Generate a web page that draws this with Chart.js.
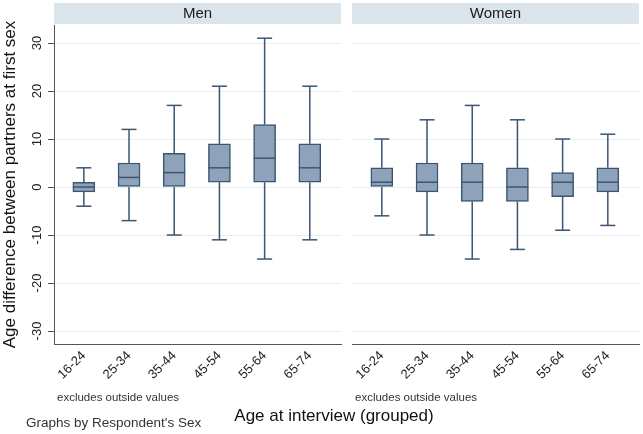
<!DOCTYPE html>
<html>
<head>
<meta charset="utf-8">
<script src="https://cdn.jsdelivr.net/npm/chart.js@4.4.1/dist/chart.umd.min.js"></script>
<style>
  html, body { margin: 0; padding: 0; background: #fff; }
  body { width: 643px; height: 434px; position: relative; overflow: hidden;
         font-family: "Liberation Sans", Arial, sans-serif; color: #222; }
  .panel { position: absolute; top: 0; height: 434px; }
  #men { left: 0; width: 343px; }
  #women { left: 343px; width: 300px; }
  .note { position: absolute; font-size: 11.5px; color: #333; white-space: nowrap; }
  #xtitle { position: absolute; top: 406px; left: 0; width: 668px; text-align: center;
            font-size: 17px; color: #111; }
  #byline { position: absolute; left: 26px; top: 415px; font-size: 13.5px; color: #333; }
</style>
</head>
<body>
<div class="panel" id="men"><canvas id="menChart"></canvas></div>
<div class="panel" id="women"><canvas id="womenChart"></canvas></div>
<div class="note" style="left:57px; top:391px;">excludes outside values</div>
<div class="note" style="left:355px; top:391px;">excludes outside values</div>
<div id="xtitle">Age at interview (grouped)</div>
<div id="byline">Graphs by Respondent's Sex</div>
<script>
const ageGroups = ["16-24", "25-34", "35-44", "45-54", "55-64", "65-74"];
const yTicks = [-30, -20, -10, 0, 10, 20, 30];

const menLow = [-4, -7, -10, -11, -15, -11];
const menQ1 = [-1, 0, 0, 1, 1, 1];
const menMedian = [0, 2, 3, 4, 6, 4];
const menQ3 = [1, 5, 7, 9, 13, 9];
const menHigh = [4, 12, 17, 21, 31, 21];

const womenLow = [-6, -10, -15, -13, -9, -8];
const womenQ1 = [0, -1, -3, -3, -2, -1];
const womenMedian = [1, 1, 1, 0, 1, 1];
const womenQ3 = [4, 5, 5, 4, 3, 4];
const womenHigh = [10, 14, 17, 14, 10, 11];

const FONT = '"Liberation Sans", Arial, sans-serif';
const LINE = "#3b5573";
const FILL = "#8ea3ba";
const GRID = "#e8eff2";

Chart.defaults.font.family = FONT;
Chart.defaults.color = "#222";

// whiskers, caps and medians, drawn from the chart scales
const whiskers = {
  id: "whiskers",
  afterDatasetsDraw(chart, args, opts) {
    const { ctx, scales: { x, y } } = chart;
    ctx.save();
    ctx.strokeStyle = LINE;
    ctx.lineWidth = 1.5;
    const seg = (x1, y1, x2, y2) => {
      ctx.beginPath();
      ctx.moveTo(x1, y1);
      ctx.lineTo(x2, y2);
      ctx.stroke();
    };
    opts.low.forEach((lo, i) => {
      const px = x.getPixelForValue(i);
      const yHi = y.getPixelForValue(opts.high[i]);
      const yLo = y.getPixelForValue(lo);
      const yMed = y.getPixelForValue(opts.median[i]);
      seg(px, y.getPixelForValue(opts.q3[i]), px, yHi);
      seg(px, y.getPixelForValue(opts.q1[i]), px, yLo);
      seg(px - 7.5, yHi, px + 7.5, yHi);
      seg(px - 7.5, yLo, px + 7.5, yLo);
      seg(px - 11, yMed, px + 11, yMed);
    });
    ctx.restore();
  },
};

// panel header strip ("Men" / "Women")
const header = {
  id: "header",
  beforeDraw(chart, args, opts) {
    const { ctx, chartArea: a } = chart;
    ctx.save();
    ctx.fillStyle = "#dae5ec";
    ctx.fillRect(a.left, 3, a.right - a.left, 21);
    ctx.fillStyle = "#1a1a1a";
    ctx.font = "15px " + FONT;
    ctx.textAlign = "center";
    ctx.textBaseline = "middle";
    ctx.fillText(opts.text, (a.left + a.right) / 2, 14);
    ctx.restore();
  },
};

function makeChart(id, title, low, q1, median, q3, high, withAxis) {
  return new Chart(id, {
    type: "bar",
    data: {
      datasets: [{
        data: ageGroups.map((g, i) => ({ x: i, y: [q1[i], q3[i]] })),
        backgroundColor: FILL,
        borderColor: LINE,
        borderWidth: 1.5,
        borderSkipped: false,
        barThickness: 22,
      }],
    },
    options: {
      responsive: false,
      animation: false,
      layout: { padding: { top: 25, right: withAxis ? 2 : 4, left: 0, bottom: 0 } },
      plugins: {
        legend: { display: false },
        tooltip: { enabled: false },
        header: { text: title },
        whiskers: { low, q1, median, q3, high },
      },
      scales: {
        x: {
          type: "linear",
          offset: false,
          min: -0.66,
          max: 5.69,
          afterBuildTicks: (s) => { s.ticks = ageGroups.map((g, i) => ({ value: i })); },
          afterFit: (s) => { s.height = 90; },
          grid: { display: false, drawTicks: false },
          border: { display: true, color: "#555", width: 1 },
          ticks: {
            callback: (v) => ageGroups[v],
            minRotation: 45,
            maxRotation: 45,
            autoSkip: false,
            padding: 4,
            font: { size: 13 },
            color: "#222",
          },
        },
        y: {
          min: -32.7,
          max: 33.75,
          afterBuildTicks: (s) => { s.ticks = yTicks.map((v) => ({ value: v })); },
          afterFit: (s) => { s.width = withAxis ? 54 : 9; },
          grid: {
            color: GRID,
            lineWidth: 1,
            drawTicks: withAxis,
            tickLength: 6,
            tickColor: "#555",
          },
          border: { display: withAxis, color: "#555", width: 1 },
          title: {
            display: withAxis,
            text: "Age difference between partners at first sex",
            font: { size: 17 },
            color: "#111",
            padding: { top: 0, bottom: 0 },
          },
          ticks: {
            display: withAxis,
            minRotation: 90,
            maxRotation: 90,
            crossAlign: "center",
            autoSkip: false,
            padding: 1,
            font: { size: 13 },
            color: "#222",
          },
        },
      },
    },
    plugins: [whiskers, header],
  });
}

const menCanvas = document.getElementById("menChart");
menCanvas.width = 343; menCanvas.height = 434;
const womenCanvas = document.getElementById("womenChart");
womenCanvas.width = 300; womenCanvas.height = 434;

makeChart(menCanvas, "Men", menLow, menQ1, menMedian, menQ3, menHigh, true);
makeChart(womenCanvas, "Women", womenLow, womenQ1, womenMedian, womenQ3, womenHigh, false);
</script>
</body>
</html>
